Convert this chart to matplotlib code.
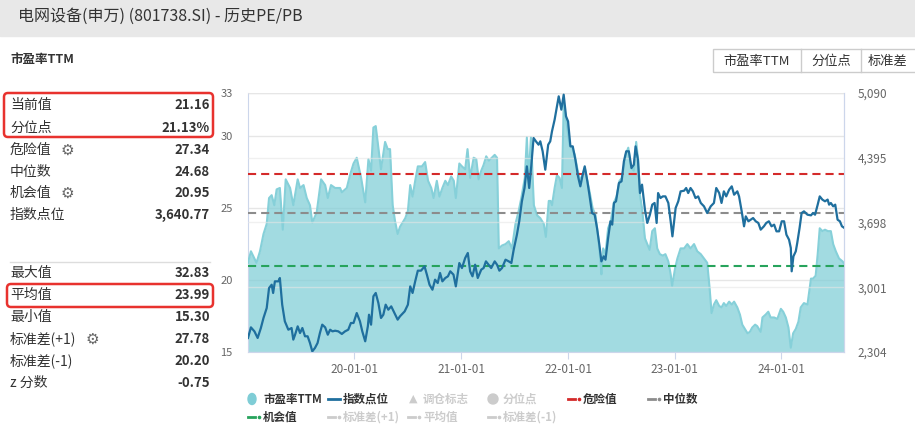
import matplotlib
matplotlib.use("Agg")
import matplotlib.pyplot as plt
import matplotlib.dates as mdates
import matplotlib.ticker as mticker
from matplotlib.patches import FancyBboxPatch, Rectangle, Ellipse
from matplotlib.lines import Line2D
import pandas as pd

plt.rcParams['font.family'] = ['Noto Sans CJK SC', 'DejaVu Sans']

# ======================== données ========================
titre = "电网设备(申万) (801738.SI) - 历史PE/PB"

pe_dates = [
    "2019-01-02", "2019-01-12", "2019-01-31", "2019-02-12", "2019-02-24", "2019-03-07", "2019-03-15", "2019-03-24",
    "2019-04-02", "2019-04-10", "2019-04-21", "2019-05-01", "2019-05-11", "2019-05-26", "2019-06-06", "2019-06-21",
    "2019-06-29", "2019-07-11", "2019-07-22", "2019-08-02", "2019-08-10", "2019-08-25", "2019-09-09", "2019-09-23",
    "2019-10-02", "2019-10-13", "2019-10-27", "2019-11-13", "2019-11-19", "2019-12-06", "2019-12-17", "2019-12-29",
    "2020-01-09", "2020-01-24", "2020-02-07", "2020-02-18", "2020-02-27", "2020-03-06", "2020-03-14", "2020-03-23",
    "2020-04-01", "2020-04-15", "2020-04-24", "2020-05-02", "2020-05-11", "2020-05-19", "2020-05-28", "2020-06-05",
    "2020-06-11", "2020-06-23", "2020-07-02", "2020-07-10", "2020-07-18", "2020-07-27", "2020-08-05", "2020-08-19",
    "2020-08-30", "2020-09-09", "2020-09-20", "2020-09-28", "2020-10-09", "2020-10-18", "2020-10-28", "2020-11-07",
    "2020-11-16", "2020-11-27", "2020-12-06", "2020-12-13", "2020-12-25",
    "2021-01-03", "2021-01-14", "2021-01-22", "2021-01-31", "2021-02-12", "2021-02-21", "2021-03-01", "2021-03-10",
    "2021-03-18", "2021-03-27", "2021-04-05", "2021-04-15", "2021-04-25", "2021-05-03", "2021-05-09", "2021-05-20",
    "2021-06-01", "2021-06-12", "2021-06-23", "2021-07-05", "2021-07-16", "2021-07-25", "2021-08-06", "2021-08-13",
    "2021-08-19", "2021-08-27", "2021-09-06", "2021-09-17", "2021-09-28", "2021-10-10", "2021-10-17", "2021-10-27",
    "2021-11-02", "2021-11-07", "2021-11-16", "2021-11-24", "2021-12-03", "2021-12-11", "2021-12-17", "2021-12-23",
    "2021-12-29",
    "2022-01-06", "2022-01-15", "2022-01-24", "2022-02-01", "2022-02-10", "2022-02-18", "2022-02-27", "2022-03-08",
    "2022-03-16", "2022-03-26", "2022-04-05", "2022-04-14", "2022-04-22", "2022-04-25", "2022-05-01", "2022-05-09",
    "2022-05-18", "2022-05-27", "2022-06-07", "2022-06-16", "2022-06-26", "2022-07-05", "2022-07-17", "2022-07-26",
    "2022-08-04", "2022-08-14", "2022-08-22", "2022-08-29", "2022-09-04", "2022-09-11", "2022-09-21", "2022-09-29",
    "2022-10-07", "2022-10-16", "2022-10-25", "2022-11-02", "2022-11-11", "2022-11-21", "2022-11-30", "2022-12-10",
    "2022-12-18", "2022-12-23",
    "2023-01-02", "2023-01-10", "2023-01-21", "2023-02-02", "2023-02-13", "2023-02-24", "2023-03-08", "2023-03-19",
    "2023-03-31", "2023-04-11", "2023-04-22", "2023-04-30", "2023-05-07", "2023-05-15", "2023-05-23", "2023-06-02",
    "2023-06-10", "2023-06-18", "2023-06-26", "2023-07-06", "2023-07-15", "2023-07-23", "2023-08-03", "2023-08-12",
    "2023-08-20", "2023-08-29", "2023-09-07", "2023-09-15", "2023-09-23", "2023-10-03", "2023-10-10", "2023-10-22",
    "2023-10-28", "2023-11-08", "2023-11-17", "2023-11-25", "2023-12-07", "2023-12-18", "2023-12-30",
    "2024-01-07", "2024-01-16", "2024-01-25", "2024-02-02", "2024-02-10", "2024-02-19", "2024-02-28", "2024-03-07",
    "2024-03-18", "2024-03-30", "2024-04-11", "2024-04-18", "2024-04-27", "2024-05-04", "2024-05-11", "2024-05-20",
    "2024-05-29", "2024-06-08", "2024-06-18", "2024-06-26", "2024-07-05", "2024-07-16", "2024-07-28", "2024-08-02",
]
pe_values = [
    21.2, 22.0, 21.2, 22.0, 23.2, 23.9, 25.7, 25.9,
    25.2, 26.3, 26.4, 23.5, 27.0, 26.4, 25.2, 27.0,
    26.4, 26.6, 25.7, 25.2, 24.0, 24.7, 27.0, 26.6,
    25.7, 26.6, 26.4, 26.4, 26.1, 26.4, 27.3, 28.1,
    28.5, 27.1, 25.4, 28.4, 27.6, 30.6, 30.7, 29.2,
    27.7, 29.6, 29.1, 29.1, 25.2, 24.1, 23.2, 23.7,
    23.9, 24.3, 24.8, 26.6, 25.8, 26.9, 27.9, 27.9,
    28.2, 26.9, 26.4, 25.7, 26.9, 25.8, 26.4, 26.9,
    26.6, 27.2, 26.9, 25.7, 28.1,
    27.9, 27.7, 29.1, 27.1, 28.5, 28.4, 27.0, 27.6,
    28.0, 28.6, 28.3, 28.5, 28.7, 28.5, 22.2, 22.4,
    22.5, 22.7, 22.2, 23.9, 24.8, 25.7, 27.1, 29.9,
    27.1, 29.9, 25.2, 24.5, 24.3, 23.9, 23.0, 25.5,
    25.5, 25.2, 26.4, 27.3, 27.1, 26.4, 32.2, 31.5,
    30.6,
    29.4, 29.2, 28.7, 27.8, 27.0, 27.2, 27.8, 26.9,
    26.1, 25.0, 24.5, 23.0, 21.3, 20.4, 22.2, 21.8,
    23.6, 24.1, 25.4, 25.8, 26.9, 27.1, 28.7, 29.2,
    27.8, 27.6, 29.6, 28.3, 25.9, 25.0, 22.9, 22.5,
    22.1, 23.4, 23.6, 22.2, 21.8, 21.7, 21.8, 21.3,
    20.4, 19.6,
    20.8, 21.5, 22.2, 22.2, 22.5, 22.2, 22.5, 22.0,
    21.8, 21.5, 21.2, 19.5, 17.7, 18.3, 18.6, 18.2,
    18.1, 18.4, 18.2, 18.5, 18.3, 18.5, 18.1, 17.6,
    16.9, 16.6, 16.3, 16.4, 16.7, 16.9, 16.8, 16.4,
    17.4, 17.6, 17.8, 17.4, 17.4, 17.3, 18.0,
    17.8, 17.4, 16.7, 15.3, 16.3, 16.6, 17.1, 18.1,
    18.4, 18.3, 20.1, 20.1, 20.3, 21.8, 23.6, 23.4,
    23.5, 23.4, 23.4, 22.5, 22.0, 21.5, 21.3, 21.16,
]

idx_dates = [
    "2019-01-02", "2019-01-12", "2019-01-24", "2019-02-04", "2019-02-15", "2019-02-24", "2019-03-07", "2019-03-15",
    "2019-03-24", "2019-03-29", "2019-04-04", "2019-04-16", "2019-04-21", "2019-04-29", "2019-05-08", "2019-05-20",
    "2019-05-31", "2019-06-06", "2019-06-12", "2019-06-21", "2019-06-29", "2019-07-07", "2019-07-16", "2019-07-25",
    "2019-08-02", "2019-08-10", "2019-08-19", "2019-08-28", "2019-09-05", "2019-09-13", "2019-09-23", "2019-10-02",
    "2019-10-10", "2019-10-18", "2019-10-27", "2019-11-07", "2019-11-19", "2019-11-30", "2019-12-11", "2019-12-20",
    "2019-12-29",
    "2020-01-09", "2020-01-20", "2020-01-28", "2020-02-07", "2020-02-16", "2020-02-20", "2020-02-27", "2020-03-06",
    "2020-03-14", "2020-03-23", "2020-04-01", "2020-04-09", "2020-04-17", "2020-04-26", "2020-05-06", "2020-05-17",
    "2020-05-28", "2020-06-05", "2020-06-21", "2020-07-02", "2020-07-10", "2020-07-18", "2020-07-27", "2020-08-05",
    "2020-08-16", "2020-08-28", "2020-09-05", "2020-09-14", "2020-09-24", "2020-10-03", "2020-10-12", "2020-10-20",
    "2020-10-28", "2020-11-07", "2020-11-16", "2020-11-24", "2020-12-05", "2020-12-13", "2020-12-25",
    "2021-01-03", "2021-01-14", "2021-01-23", "2021-01-31", "2021-02-08", "2021-02-17", "2021-02-26", "2021-03-10",
    "2021-03-18", "2021-03-26", "2021-04-04", "2021-04-13", "2021-04-25", "2021-05-03", "2021-05-11", "2021-05-20",
    "2021-06-01", "2021-06-12", "2021-06-21", "2021-06-29", "2021-07-10", "2021-07-18", "2021-07-27", "2021-08-05",
    "2021-08-13", "2021-08-21", "2021-08-28", "2021-09-05", "2021-09-13", "2021-09-22", "2021-09-28", "2021-10-06",
    "2021-10-15", "2021-10-25", "2021-11-01", "2021-11-07", "2021-11-16", "2021-11-24", "2021-11-30", "2021-12-09",
    "2021-12-17", "2021-12-25",
    "2022-01-01", "2022-01-09", "2022-01-17", "2022-01-26", "2022-02-04", "2022-02-12", "2022-02-20", "2022-02-27",
    "2022-03-08", "2022-03-15", "2022-03-24", "2022-04-02", "2022-04-10", "2022-04-18", "2022-04-25", "2022-05-03",
    "2022-05-09", "2022-05-18", "2022-05-26", "2022-06-01", "2022-06-07", "2022-06-14", "2022-06-24", "2022-07-03",
    "2022-07-11", "2022-07-19", "2022-07-28", "2022-08-06", "2022-08-14", "2022-08-20", "2022-08-28", "2022-09-04",
    "2022-09-11", "2022-09-21", "2022-09-29", "2022-10-08", "2022-10-16", "2022-10-24", "2022-10-31", "2022-11-05",
    "2022-11-13", "2022-11-21", "2022-11-30", "2022-12-10", "2022-12-18", "2022-12-24",
    "2023-01-04", "2023-01-13", "2023-01-21", "2023-02-02", "2023-02-09", "2023-02-16", "2023-02-24", "2023-03-04",
    "2023-03-13", "2023-03-22", "2023-03-31", "2023-04-11", "2023-04-22", "2023-05-04", "2023-05-15", "2023-05-23",
    "2023-06-02", "2023-06-10", "2023-06-18", "2023-06-26", "2023-07-06", "2023-07-15", "2023-07-23", "2023-08-03",
    "2023-08-09", "2023-08-18", "2023-08-26", "2023-09-01", "2023-09-10", "2023-09-18", "2023-09-26", "2023-10-05",
    "2023-10-14", "2023-10-22", "2023-11-02", "2023-11-10", "2023-11-19", "2023-11-28", "2023-12-07", "2023-12-15",
    "2023-12-24",
    "2024-01-02", "2024-01-10", "2024-01-18", "2024-01-27", "2024-02-02", "2024-02-05", "2024-02-11", "2024-02-19",
    "2024-02-24", "2024-03-03", "2024-03-10", "2024-03-18", "2024-03-30", "2024-04-11", "2024-04-18", "2024-04-25",
    "2024-05-04", "2024-05-11", "2024-05-20", "2024-05-29", "2024-06-07", "2024-06-12", "2024-06-18", "2024-06-26",
    "2024-07-03", "2024-07-11", "2024-07-19", "2024-07-26", "2024-08-02",
]
idx_values = [
    2455, 2569, 2526, 2455, 2562, 2670, 2777, 2992,
    3028, 2939, 3064, 3064, 3100, 2813, 2634, 2544,
    2562, 2437, 2490, 2580, 2508, 2562, 2473, 2473,
    2401, 2311, 2347, 2401, 2508, 2598, 2569, 2490,
    2544, 2526, 2533, 2526, 2498, 2526, 2544, 2616,
    2616,
    2723, 2634, 2526, 2419, 2580, 2705, 2598, 2903,
    2939, 2831, 2670, 2705, 2813, 2759, 2795, 2723,
    2652, 2688, 2741, 2813, 3010, 2939, 3064, 3179,
    3179, 3225, 3136, 3028, 2974, 3082, 3046, 3154,
    3064, 3100, 3118, 3172, 3136, 3010, 3261,
    3207, 3315, 3369, 3172, 3118, 3243, 3100, 3190,
    3207, 3279, 3243, 3207, 3279, 3243, 3179, 3207,
    3297, 3279, 3261, 3405, 3566, 3710, 3925, 4068,
    4301, 4068, 4301, 4606, 4570, 4534, 4570, 4463,
    4265, 4534, 4570, 4678, 4803, 4947, 5054, 4911,
    5072, 4839,
    4785, 4516, 4516, 4373, 4194, 4086, 4211, 4301,
    4140, 3996, 3799, 3781, 3638, 3459, 3279, 3333,
    3297, 3530, 3710, 3674, 3907, 3925, 4122, 4140,
    4355, 4463, 4463, 4283, 4319, 4516, 4373, 4014,
    4104, 3835, 3692, 3781, 3889, 3907, 3692, 4014,
    3960, 3978, 3978, 3907, 3710, 3548,
    3853, 3925, 4032, 4039, 4068, 4014, 4068, 4032,
    3960, 3978, 3907, 3871, 3799, 3871, 3907, 4068,
    4014, 3907, 4032, 3978, 4050, 4086, 3996, 4032,
    3978, 3817, 3656, 3763, 3710, 3727, 3745, 3710,
    3692, 3620, 3656, 3692, 3710, 3656, 3674, 3602,
    3602,
    3710, 3710, 3566, 3512, 3423, 3172, 3333, 3387,
    3476, 3638, 3799, 3817, 3781, 3774, 3799, 3781,
    3889, 3978, 3943, 3925, 3943, 3889, 3907, 3871,
    3889, 3727, 3710, 3656, 3641,
]

# valeurs du panneau de gauche
stats_haut = [("当前值", "21.16"), ("分位点", "21.13%"), ("危险值", "27.34"),
              ("中位数", "24.68"), ("机会值", "20.95"), ("指数点位", "3,640.77")]
stats_bas = [("最大值", "32.83"), ("平均值", "23.99"), ("最小值", "15.30"),
             ("标准差(+1)", "27.78"), ("标准差(-1)", "20.20"), ("z 分数", "-0.75")]

danger, mediane, chance = 27.34, 24.68, 20.95

pe_ticks = [15, 20, 25, 30, 33]
idx_ticks = [2304, 3001, 3698, 4395, 5090]
date_ticks = ["2020-01-01", "2021-01-01", "2022-01-01", "2023-01-01", "2024-01-01"]

boutons = ["市盈率TTM", "分位点", "标准差"]

# =============================================================================
W, H = 915, 432
fig = plt.figure(figsize=(W / 100, H / 100), dpi=100)
T = fig.dpi_scale_trans


def px(x, y):
    # pixels (origine en haut à gauche) -> pouces
    return x / 100, (H - y) / 100


# bandeau du titre
fig.patches.append(Rectangle(px(0, 36), W / 100, 0.36, transform=T, color="#e8e8e8", zorder=0))
fig.text(*px(18, 16), titre, transform=T, fontsize=11.5, color="#333333", va="center")
fig.text(*px(10, 60), "市盈率TTM", transform=T, fontsize=9, fontweight="bold", color="#333333", va="center")

# boutons en haut à droite
fig.patches.append(Rectangle(px(713, 72), (W - 713 + 2) / 100, 0.23, transform=T,
                             fill=False, ec="#cccccc", lw=1))
for xs in [801, 861]:
    fig.lines.append(Line2D([xs / 100, xs / 100], [(H - 72) / 100, (H - 49) / 100],
                            transform=T, color="#cccccc", lw=1))
for xc, lab in zip([757, 831, 888], boutons):
    fig.text(*px(xc, 61), lab, transform=T, fontsize=9.5, color="#333333", ha="center", va="center")

# panneau de gauche
ys_haut = [105, 128, 150, 172, 193, 215]
ys_bas = [273, 295, 317, 339, 361, 383]
gears = {"危险值": 67, "机会值": 67, "标准差(+1)": 92}
for ys, stats in [(ys_haut, stats_haut), (ys_bas, stats_bas)]:
    for y, (lab, val) in zip(ys, stats):
        fig.text(*px(10, y), lab, transform=T, fontsize=10, color="#333333", va="center")
        fig.text(*px(210, y), val, transform=T, fontsize=9.5, fontweight="bold",
                 color="#333333", va="center", ha="right")
        if lab in gears:
            fig.text(*px(gears[lab], y), "⚙", transform=T, fontsize=11, color="#666666",
                     va="center", ha="center", family="DejaVu Sans")
fig.lines.append(Line2D([0.10, 2.10], [(H - 262) / 100] * 2, transform=T, color="#dddddd", lw=1))

for (x0, y0, x1, y1) in [(4, 93, 213, 137), (7, 284, 213, 307)]:
    fig.patches.append(FancyBboxPatch(px(x0, y1), (x1 - x0) / 100, (y1 - y0) / 100,
                                      boxstyle="round,pad=0,rounding_size=0.04", transform=T,
                                      fill=False, ec="#e8322e", lw=1.8))

# zone du graphique
ax = fig.add_axes([248 / W, 1 - 352 / H, (844 - 248) / W, (352 - 93) / H])
ax2 = ax.twinx()

d_pe = pd.to_datetime(pe_dates)
d_idx = pd.to_datetime(idx_dates)

ax.fill_between(d_pe, pe_values, 15, color="#7fcdd6", alpha=0.72, lw=0, zorder=2)
ax.plot(d_pe, pe_values, color="#86d0d9", lw=1.5, zorder=3)
tirets = (3.9, 2.4)
ax.axhline(danger, color="#d42a2a", lw=1.5, dashes=tirets, zorder=4)
ax.axhline(mediane, color="#8c8c8c", lw=1.5, dashes=tirets, zorder=4)
ax.axhline(chance, color="#27a35c", lw=1.5, dashes=tirets, zorder=4)

ax2.plot(d_idx, idx_values, color="#1f6f9e", lw=1.6, zorder=5)

ax.set_ylim(15, 33)
ax.set_yticks(pe_ticks)
ax2.set_ylim(2304, 5090)
ax2.set_yticks(idx_ticks)
ax2.yaxis.set_major_formatter(mticker.StrMethodFormatter("{x:,.0f}"))
ax.set_xlim(d_pe[0], d_pe[-1])
ax.set_xticks(pd.to_datetime(date_ticks))
ax.xaxis.set_major_formatter(mdates.DateFormatter("%y-%m-%d"))

ax.grid(axis="y", color="#e6e6e6", lw=1, zorder=1)
ax2.grid(axis="y", color="#e6e6e6", lw=1, alpha=0.6)
ax.set_axisbelow(True)

ax.tick_params(axis="y", length=0, pad=11, labelsize=8, labelcolor="#666666")
ax2.tick_params(axis="y", length=0, pad=10, labelsize=8.5, labelcolor="#666666")
ax.tick_params(axis="x", length=5, color="#ccd6eb", pad=3, labelsize=8.5, labelcolor="#666666")

for a in (ax, ax2):
    a.spines["top"].set_visible(False)
    for s in ("left", "right", "bottom"):
        a.spines[s].set_color("#ccd6eb")
ax2.spines["left"].set_visible(False)
ax2.spines["bottom"].set_visible(False)

# légende en bas
actif, inactif = "#333333", "#cccccc"
legende = [
    (248, 399, "市盈率TTM", "ellipse", "#7fcdd6", actif),
    (328, 399, "指数点位", "ligne", "#1f6f9e", actif),
    (408, 399, "调仓标志", "triangle", inactif, inactif),
    (488, 399, "分位点", "cercle", inactif, inactif),
    (568, 399, "危险值", "tiret", "#d42a2a", actif),
    (648, 399, "中位数", "tiret", "#8c8c8c", actif),
    (248, 417, "机会值", "tiret", "#27a35c", actif),
    (328, 417, "标准差(+1)", "tiret", inactif, inactif),
    (408, 417, "平均值", "tiret", inactif, inactif),
    (488, 417, "标准差(-1)", "tiret", inactif, inactif),
]
for x, y, lab, sym, c, ct in legende:
    yy = (H - y) / 100
    if sym == "ellipse":
        fig.patches.append(Ellipse(((x + 4) / 100, yy), 0.08, 0.11, transform=T, color=c))
    elif sym == "cercle":
        fig.patches.append(Ellipse(((x + 5) / 100, yy), 0.10, 0.10, transform=T, color=c))
    elif sym == "triangle":
        fig.text((x + 5) / 100, yy, "▲", transform=T, fontsize=8, color=c, ha="center",
                 va="center", family="DejaVu Sans")
    elif sym == "ligne":
        fig.lines.append(Line2D([x / 100, (x + 12) / 100], [yy, yy], transform=T, color=c, lw=2))
    else:
        fig.lines.append(Line2D([x / 100, (x + 7) / 100], [yy, yy], transform=T, color=c, lw=2))
        fig.lines.append(Line2D([(x + 11) / 100], [yy], transform=T, color=c, marker="o",
                                markersize=1.6, lw=0))
    fig.text((x + 15) / 100, yy, lab, transform=T, fontsize=8.3, fontweight="bold", color=ct, va="center")

fig.savefig("out.png", dpi=100)
